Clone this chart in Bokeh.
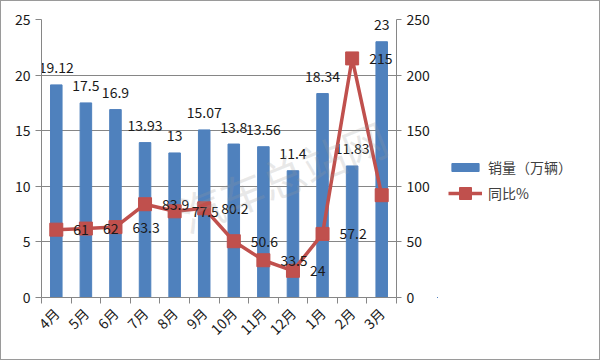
from bokeh.plotting import figure
from bokeh.layouts import row
from bokeh.models import Range1d, LinearAxis, FixedTicker, Legend, LegendItem, ColumnDataSource, Label
from bokeh.core.properties import value
from bokeh.embed import file_html
from bokeh.resources import INLINE
import math

months = ["4月", "5月", "6月", "7月", "8月", "9月", "10月", "11月", "12月", "1月", "2月", "3月"]
sales = [19.12, 17.5, 16.9, 13.93, 13, 15.07, 13.8, 13.56, 11.4, 18.34, 11.83, 23]
yoy = [61, 62, 63.3, 83.9, 77.5, 80.2, 50.6, 33.5, 24, 57.2, 215, 92]
sales_ticks = [0, 5, 10, 15, 20, 25]
yoy_ticks = [0, 50, 100, 150, 200, 250]
legend_labels = ["销量（万辆）", "同比%"]
watermark = "汽车总站网"

FONT = "Noto Sans CJK SC"
BLUE = "#4F81BD"
RED = "#C0504D"
GRAY = "#868686"

xs = [i + 0.5 for i in range(len(months))]
src = ColumnDataSource(dict(
    x=xs, sales=sales, yoy=yoy,
    sales_txt=[f"{v:g}" for v in sales],
    yoy_txt=[f"{v:g}" for v in yoy],
))

p = figure(frame_width=355, frame_height=278, output_backend="svg", toolbar_location=None,
           x_range=Range1d(0, len(months)), y_range=Range1d(0, 25),
           min_border_left=40, min_border_top=18, min_border_bottom=62, min_border_right=41)
p.outline_line_color = None
p.background_fill_color = "white"
p.border_fill_color = "white"
p.extra_y_ranges = {"yoy": Range1d(0, 250)}

# axes
p.xaxis.ticker = FixedTicker(ticks=xs, minor_ticks=list(range(len(months) + 1)))
p.xaxis.major_label_overrides = {x: m for x, m in zip(xs, months)}
p.xaxis.major_tick_out = 0
p.xaxis.major_tick_in = 0
p.xaxis.minor_tick_out = 6
p.xaxis.minor_tick_in = 0
p.xaxis.major_label_orientation = math.pi / 4
p.xaxis.major_label_standoff = 7

p.yaxis.ticker = FixedTicker(ticks=sales_ticks)
p.yaxis.major_tick_out = 6
p.yaxis.major_tick_in = 0
p.yaxis.major_label_standoff = 5

ra = LinearAxis(y_range_name="yoy", ticker=FixedTicker(ticks=yoy_ticks))
ra.major_tick_out = 5
ra.major_tick_in = 0
ra.major_label_standoff = 5
p.add_layout(ra, "right")

for ax in [p.xaxis[0], p.yaxis[0], ra]:
    ax.axis_line_color = GRAY
    ax.major_tick_line_color = GRAY
    ax.minor_tick_line_color = GRAY if ax is p.xaxis[0] else None
    ax.major_label_text_font = FONT
    ax.major_label_text_font_size = "14px"
    ax.major_label_text_color = "#1a1a1a"

p.xgrid.visible = False
p.ygrid.ticker = FixedTicker(ticks=sales_ticks)
p.ygrid.grid_line_color = GRAY
p.ygrid.grid_line_width = 1

p.vbar(x="x", top="sales", width=0.39, source=src, fill_color=BLUE, line_color=BLUE)
p.text(x="x", y="sales", text="sales_txt", source=src, text_align="center", text_baseline="middle",
       y_offset=-17, text_font=value(FONT), text_font_size="14px", text_color="#1a1a1a")

p.line(x="x", y="yoy", source=src, y_range_name="yoy", line_color=RED, line_width=3.5)
p.scatter(x="x", y="yoy", source=src, y_range_name="yoy", marker="square", size=13,
          fill_color=RED, line_color=RED)
p.text(x="x", y="yoy", text="yoy_txt", source=src, y_range_name="yoy", text_align="left",
       text_baseline="middle", x_offset=17, text_font=value(FONT), text_font_size="14px",
       text_color="#1a1a1a")

# faint watermark
p.add_layout(Label(x=241, y=122, x_units="screen", y_units="screen", text=watermark,
                   angle=0.38, text_align="center", text_baseline="middle",
                   text_font=FONT, text_font_size="44px", text_color="#9a9a9a", text_alpha=0.22))

# legend panel: a separate figure beside the plot; its proxy renderers use the
# same data but a range that keeps them out of view, so only the legend shows
p2 = figure(width=162, height=358, output_backend="svg", toolbar_location=None,
            x_axis_type=None, y_axis_type=None, min_border=0,
            x_range=Range1d(1000, 1001), y_range=Range1d(1000, 1001))
p2.outline_line_color = None
p2.background_fill_color = "white"
p2.border_fill_color = "white"
lb = p2.vbar(x="x", top="sales", source=src, width=0.39, fill_color=BLUE, line_color=BLUE)
ll = p2.line(x="x", y="yoy", source=src, line_color=RED, line_width=3.5)
lm = p2.scatter(x="x", y="yoy", source=src, marker="square", size=13, fill_color=RED, line_color=RED)


def style(lg, gh):
    lg.border_line_color = None
    lg.background_fill_alpha = 0
    lg.padding = 0
    lg.margin = 0
    lg.glyph_width = 34
    lg.glyph_height = gh
    lg.label_height = gh
    lg.label_standoff = 6
    lg.label_text_font = FONT
    lg.label_text_font_size = "14px"
    lg.label_text_color = "#404040"


lg1 = Legend(items=[LegendItem(label=legend_labels[0], renderers=[lb], index=0)], location=(11, 120))
style(lg1, 10)
lg1.label_height = 20
lg2 = Legend(items=[LegendItem(label=legend_labels[1], renderers=[ll, lm], index=0)], location=(11, 89))
style(lg2, 30)
p2.add_layout(lg1, "center")
p2.add_layout(lg2, "center")

layout = row(p, p2)
layout.styles = {"border": "1px solid #9a9a9a"}

open("out.html", "w").write(file_html(layout, INLINE))
